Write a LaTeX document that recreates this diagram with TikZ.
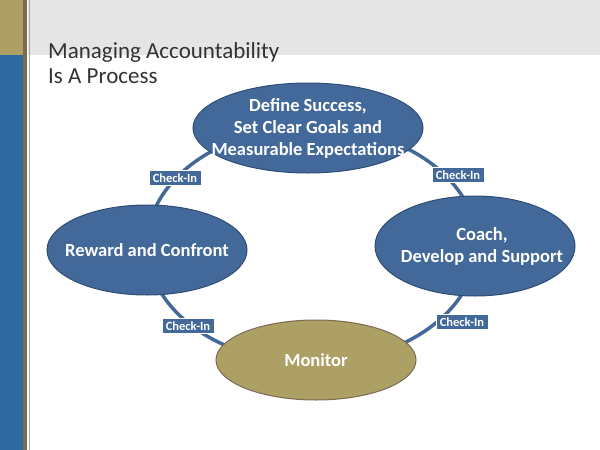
\documentclass[tikz,border=0pt]{standalone}
\usepackage{fontspec}
\setmainfont{Carlito}
\definecolor{gold}{HTML}{ADA064}
\definecolor{sblue}{HTML}{2E6AA0}
\definecolor{nblue}{HTML}{43699B}
\definecolor{nedge}{HTML}{2F4D74}
\definecolor{brn}{HTML}{7D6A50}
\tikzset{x=1pt,y=-1pt,
 shp/.style={draw=nedge,line width=1pt,fill=nblue},
 stage/.style={text=white,font=\bfseries\fontsize{18.5}{22}\selectfont,align=center,inner sep=0pt},
 chk/.style={draw=white,line width=0.6pt,fill=nblue,text=white,font=\bfseries\fontsize{12.5}{14}\selectfont,inner xsep=4pt,inner ysep=3pt}}
\begin{document}
\begin{tikzpicture}
\useasboundingbox (0,0) rectangle (600,450);
\fill[white] (0,0) rectangle (600,450);
\fill[black!10] (28,0) rectangle (600,55);
\fill[gold] (0,0) rectangle (23,55);
\fill[sblue] (0,55) rectangle (23,450);
\fill[brn] (23,0) rectangle (27,450);
\fill[brn!60] (29,0) rectangle (30,450);
\node[anchor=north west,align=left,font=\fontsize{23}{25}\selectfont,text=black!80,inner sep=0pt] (title) at (48,42) {Managing Accountability\\Is A Process};
\coordinate (c) at (312,245);
\draw[nblue,line width=3.5pt] (c) ellipse [x radius=165,y radius=118];
\draw[shp] (308,128) ellipse [x radius=115,y radius=45];
\draw[shp] (475,246) ellipse [x radius=100,y radius=50];
\draw[shp] (147,250) ellipse [x radius=100,y radius=45];
\draw[shp,fill=gold,draw=brn] (316,360) ellipse [x radius=100,y radius=40];
\node[stage] (top) at (308,128) {Define Success,\\Set Clear Goals and\\Measurable Expectations};
\node[stage] (right) at (482,246) {Coach,\\Develop and Support};
\node[stage] (left) at (147,250) {Reward and Confront};
\node[stage] (bot) at (316,360) {Monitor};
\node[chk] (c1) at (175,178) {Check-In};
\node[chk] (c2) at (458,175) {Check-In};
\node[chk] (c3) at (188,326) {Check-In};
\node[chk] (c4) at (462,322) {Check-In};
\end{tikzpicture}
\end{document}
